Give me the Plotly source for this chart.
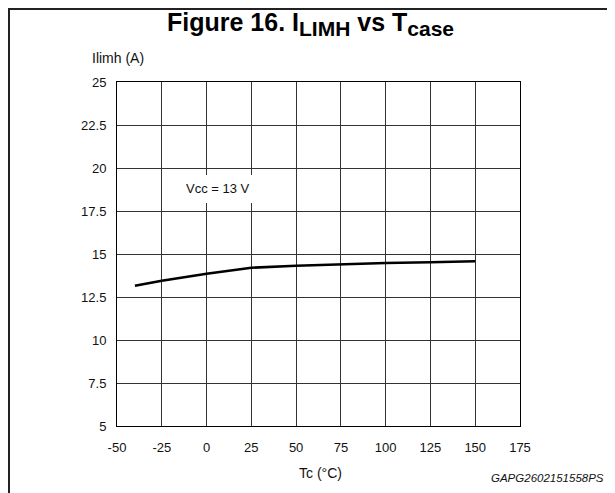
import plotly.graph_objects as go

# Data
tc = [-40, -25, 0, 25, 50, 75, 100, 125, 150]
ilimh = [13.15, 13.45, 13.85, 14.2, 14.32, 14.42, 14.48, 14.52, 14.58]
x_ticks = [-50, -25, 0, 25, 50, 75, 100, 125, 150, 175]
x_tick_text = ["-50", "-25", "0", "25", "50", "75", "100", "125", "150", "175"]
y_ticks = [5, 7.5, 10, 12.5, 15, 17.5, 20, 22.5, 25]
y_tick_text = ["5", "7.5", "10", "12.5", "15", "17.5", "20", "22.5", "25"]

FONT = "Liberation Sans, Arial, sans-serif"
OFF = 8  # page body margin
W, H = 615 - OFF, 493 - OFF
# plot area in page pixels: x 117..520, y 82..426
L = 117 - OFF
R = W - (520 - OFF)
T = 82 - OFF
B = H - (426 - OFF)
pw, ph = W - L - R, H - T - B


def px(x):  # page pixel -> paper x
    return (x - OFF - L) / pw


def py(y):  # page pixel -> paper y
    return (H - B - (y - OFF)) / ph


fig = go.Figure()
fig.add_trace(go.Scatter(x=tc, y=ilimh, mode="lines",
                         line=dict(color="black", width=2.6),
                         hoverinfo="skip", showlegend=False))

fig.update_layout(
    width=W, height=H, autosize=False,
    margin=dict(l=L, r=R, t=T, b=B, pad=0),
    paper_bgcolor="white", plot_bgcolor="white",
    font=dict(family=FONT, size=13, color="#111"),
    xaxis=dict(range=[-50, 175], tickvals=x_ticks, ticktext=x_tick_text,
               showgrid=True, gridcolor="#333", gridwidth=1, showline=True,
               linecolor="black", linewidth=1, mirror=True, zeroline=False,
               ticks="", ticklabelstandoff=9, tickfont=dict(size=13)),
    yaxis=dict(range=[5, 25], tickvals=y_ticks, ticktext=y_tick_text,
               showgrid=True, gridcolor="#333", gridwidth=1, showline=True,
               linecolor="black", linewidth=1, mirror=True, zeroline=False,
               ticks="", ticklabelstandoff=7, tickfont=dict(size=13)),
)

shapes = [
    # white box behind Vcc label
    dict(type="rect", xref="x", yref="y", x0=-20, x1=29, y0=17.97, y1=19.6,
         fillcolor="white", line=dict(width=0), layer="above"),
    # figure frame: top and left
    dict(type="line", xref="paper", yref="paper", x0=px(OFF), x1=px(W + OFF + 5),
         y0=py(OFF + 1), y1=py(OFF + 1), line=dict(color="#222", width=2)),
    dict(type="line", xref="paper", yref="paper", x0=px(OFF + 1), x1=px(OFF + 1),
         y0=py(OFF), y1=py(H + OFF + 5), line=dict(color="#222", width=2)),
]
fig.update_layout(shapes=shapes)

title_txt = ("<b>Figure 16. I<sub><span style=\"font-size:21px\">LIMH</span></sub>"
             " vs T<sub><span style=\"font-size:21px\">case</span></sub></b>")

annotations = [
    dict(text=title_txt,
         xref="paper", yref="paper", x=px(310), y=py(24),
         xanchor="center", yanchor="middle", showarrow=False,
         font=dict(size=25, color="black", family=FONT)),
    dict(text="Ilimh (A)", xref="paper", yref="paper", x=px(90), y=py(58),
         xanchor="left", yanchor="middle", showarrow=False,
         font=dict(size=14, color="#111")),
    dict(text="Tc (°C)", xref="paper", yref="paper", x=px(320), y=py(473),
         xanchor="center", yanchor="middle", showarrow=False,
         font=dict(size=14, color="#111")),
    dict(text="<i>GAPG2602151558PS</i>", xref="paper", yref="paper",
         x=px(606), y=py(478), xanchor="right", yanchor="middle",
         showarrow=False, font=dict(size=11.5, color="#111")),
    dict(text="Vcc = 13 V", xref="x", yref="y", x=6.3, y=18.78,
         xanchor="center", yanchor="middle", showarrow=False,
         font=dict(size=13, color="#111")),
]
fig.update_layout(annotations=annotations)

fig.write_html("out.html")
